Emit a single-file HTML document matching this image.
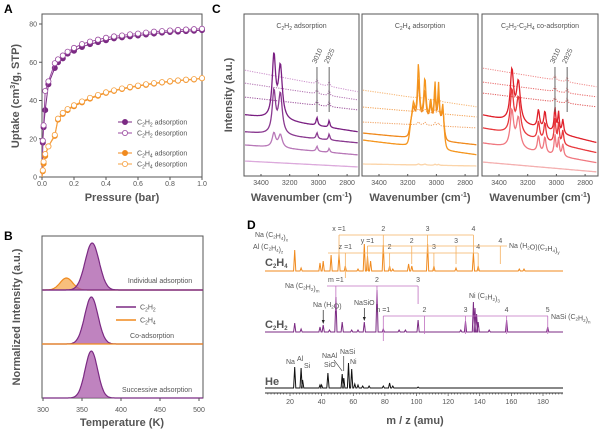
<!DOCTYPE html>
<html><head><meta charset="utf-8">
<style>
html,body{margin:0;padding:0;background:#fff;}
svg{display:block;font-family:"Liberation Sans",Arial,sans-serif;}
.t{fill:#555;font-size:7px;}
.ti{fill:#555;font-size:11px;font-weight:bold;}
.pl{fill:#000;font-size:12px;font-weight:bold;}
.lg{fill:#555;font-size:7px;}
</style></head>
<body>
<svg id="fig" width="600" height="430" viewBox="0 0 600 430">
<text class="pl" x="4" y="13">A</text>
<text class="pl" x="4" y="240">B</text>
<text class="pl" x="212" y="13">C</text>
<text class="pl" x="247" y="229">D</text>
<g id="gA"></g>
<g id="gB"></g>
<g id="gC"></g>
<g id="gD"></g>
</svg>
<script>
// ---------- Panel A data ----------
const pressA = [0.005,0.01,0.02,0.04,0.08,0.1,0.13,0.16,0.2,0.25,0.3,0.35,0.4,0.45,0.5,0.55,0.6,0.65,0.7,0.75,0.8,0.85,0.9,0.95,1.0];
const c2h2Ads = [18,26,35,48.5,57,60,62,64.5,66,68,69.5,70.5,71.5,72.5,73,73.5,74,74.5,75,75.5,75.8,76,76.3,76.5,76.8];
const c2h2Des = [19,27,45,50,59.5,61.5,63.5,65.5,67.5,69.5,70.8,71.8,72.8,73.5,74,74.6,75,75.5,76,76.3,76.6,76.9,77.1,77.3,77.5];
const c2h4Ads = [3,7,11,16,21.5,30,33,35,37,39,41,42.5,44,45,46,46.8,47.5,48.2,48.8,49.4,49.9,50.3,50.7,51,51.6];
const c2h4Des = [3.5,8,12,16,22,30.5,33.5,35.5,37.5,39.5,41.4,42.9,44.3,45.3,46.3,47.1,47.8,48.5,49.1,49.6,50.1,50.5,50.9,51.2,51.7];
const ticksAx = [0,0.2,0.4,0.6,0.8,1.0];
const ticksAy = [0,20,40,60,80];
// ---------- Panel B data ----------
const peakCenters = [363,330,362,362];
const peakHeights = [47,12,47,47];
const peakWidths = [9,8,8.5,8];
const ticksBx = [300,350,400,450,500];
// ---------- Panel C data ----------
const c1Peaks = [3310,3265,3010,2925];
const c1BaseL = [70,83,97,115,132,145,161];
const c1BaseR = [92,100,110,132,143,155,167];
const c1Amps = [[0,0,5,5],[0,0,5,5],[0,0,5,5],[62,52,8,7],[42,40,6,6],[14,13,5,4],[0,0,0,0]];
const c2Peaks = [3160,3125,3080,3040,3010,2985,2955];
const c2BaseL = [90,107,122,133,140,164];
const c2BaseR = [107,117,128,145,155,166];
const c2Amps = [[0,3,3,0,3,3,0],[0,3,3,0,3,3,0],[0,3,3,0,3,3,0],[12,40,30,15,28,28,16],[16,55,42,20,38,38,22],[0,1,1,0,1,1,0]];
const c2Plateau = [0,0,0,18,26,0];
const c3Peaks = [3310,3265,3125,3080,3010,2985,2955,2925];
const c3BaseL = [68,82,93,115,128,143,162];
const c3BaseR = [87,97,107,143,153,163,172];
const c3Amps = [[0,0,0,0,5,0,0,5],[0,0,0,0,5,0,0,5],[0,0,0,0,5,0,0,5],[50,40,18,18,24,20,14,0],[42,36,18,18,24,20,14,0],[36,30,16,16,20,17,12,0],[0,0,0,0,0,0,0,0]];
const ticksCx = [3400,3200,3000,2800];
// ---------- Panel D data ----------
const heMass = [23,27,28,39,40,44,53,54,57,59,61,63,66,70,79,83,85,101];
const heInt = [21,20,8,3,3,15,14,10,25,19,4,3,2,2,2,5,2,1];
const c2h2Mass = [23,27,39,41,45,49,53,59,63,67,75,79,89,93,101,128,131,136,137,138,139,146,157,183];
const c2h2Int = [9,3,5,7,2,35,10,2,2,10,42,3,2,2,12,2,11,30,24,18,10,2,12,5];
const c2h4Mass = [23,27,39,41,46,51,55,63,67,69,71,79,83,85,95,97,107,111,125,136,139,165,168];
const c2h4Int = [21,3,8,10,16,17,5,2,27,15,10,26,5,2,7,5,27,5,3,18,5,2,2];
const ticksDx = [20,40,60,80,100,120,140,160,180];

const NS='http://www.w3.org/2000/svg';
function mk(parent,tag,attrs,text){const e=document.createElementNS(NS,tag);for(const k in attrs)e.setAttribute(k,attrs[k]);if(text!==undefined)e.textContent=text;parent.appendChild(e);return e;}

// ================= Panel A =================
(function(){
 const g=document.getElementById('gA');
 const L=42,R=202,T=14,B=177;
 const xs=p=>L+p*(R-L);
 const ys=v=>B-v*(177-24)/80;
 const box=mk(g,'rect',{x:L,y:T,width:R-L,height:B-T,fill:'none',stroke:'#555','stroke-width':1});
 
 ticksAx.forEach(t=>{mk(g,'line',{x1:xs(t),x2:xs(t),y1:B,y2:B+3,stroke:'#555'});
  const tx=mk(g,'text',{x:xs(t),y:B+9,class:'t','text-anchor':'middle'},t.toFixed(1));
  });
 ticksAy.forEach(t=>{mk(g,'line',{x1:L-3,x2:L,y1:ys(t),y2:ys(t),stroke:'#555'});
  const tx=mk(g,'text',{x:L-5,y:ys(t)+2.5,class:'t','text-anchor':'end'},t);
  });
 const xt=mk(g,'text',{x:122,y:201,class:'ti','text-anchor':'middle'},'Pressure (bar)');
 
 const yt=mk(g,'text',{x:0,y:0,class:'ti','text-anchor':'middle',transform:'translate(19,96) rotate(-90)'});
 yt.innerHTML='Uptake (cm<tspan font-size="7" dy="-4">3</tspan><tspan dy="4">/g, STP)</tspan>';
 
 const series=[[c2h2Ads,'#7b2a83',true,'c2h2-adsorption'],[c2h2Des,'#9a4aa0',false,'c2h2-desorption'],[c2h4Ads,'#f08a1e',true,'c2h4-adsorption'],[c2h4Des,'#f5a040',false,'c2h4-desorption']];
 series.forEach(s=>{
  const pts=[[0,0]].concat(pressA.map((p,i)=>[p,s[0][i]]));
  const pl=mk(g,'polyline',{points:pts.map(q=>xs(q[0])+','+ys(q[1])).join(' '),fill:'none',stroke:s[1],'stroke-width':1});
  
  pressA.forEach((p,i)=>{const c=mk(g,'circle',{cx:xs(p),cy:ys(s[0][i]),r:2.6,fill:s[2]?s[1]:'#fff',stroke:s[1],'stroke-width':0.8});
   });
 });
 const leg=[[122,'#7b2a83',true,'C','2','H','2',' adsorption'],[133,'#9a4aa0',false,'C','2','H','2',' desorption'],[153,'#f08a1e',true,'C','2','H','4',' adsorption'],[164,'#f5a040',false,'C','2','H','4',' desorption']];
 leg.forEach(l=>{mk(g,'line',{x1:118,x2:132,y1:l[0],y2:l[0],stroke:l[1]});
  mk(g,'circle',{cx:125,cy:l[0],r:2.6,fill:l[2]?l[1]:'#fff',stroke:l[1],'stroke-width':0.8});
  const t=mk(g,'text',{x:137,y:l[0]+2.5,class:'lg'});
  t.innerHTML='C<tspan font-size="5" dy="2">2</tspan><tspan dy="-2">H</tspan><tspan font-size="5" dy="2">'+l[6]+'</tspan><tspan dy="-2">'+l[7]+'</tspan>';
  });
})();

// ================= Panel B =================
(function(){
 const g=document.getElementById('gB');
 const L=42,R=203,T=236,B=398;
 const xs=t=>43+(t-300)*(199-43)/200;
 const f=mk(g,'rect',{x:L,y:T,width:R-L,height:B-T,fill:'none',stroke:'#555'});
 
 const bases=[290,290,344,398];
 const cols=[['#7b2a83','rgba(170,90,170,0.75)'],['#f08a1e','rgba(245,170,80,0.75)'],['#7b2a83','rgba(170,90,170,0.75)'],['#7b2a83','rgba(170,90,170,0.75)']];
 const names=['peak-c2h2-individual','peak-c2h4-individual','peak-c2h2-co-adsorption','peak-c2h2-successive'];
 [1,0,2,3].forEach(i=>{
  let d='';
  for(let t=300;t<=505;t+=1){const y=bases[i]-peakHeights[i]*Math.exp(-Math.pow((t-peakCenters[i])/peakWidths[i],2)/2);d+=(t===300?'M':'L')+xs(t).toFixed(1)+','+y.toFixed(1);}
  const a=mk(g,'path',{d:d+'L'+xs(505)+','+bases[i]+'L'+xs(300)+','+bases[i]+'Z',fill:cols[i][1],stroke:'none'});
  
  const p=mk(g,'path',{d:d,fill:'none',stroke:cols[i][0],'stroke-width':1.2});
  
 });
 mk(g,'line',{x1:L,x2:R,y1:344,y2:344,stroke:'#f08a1e','stroke-width':1.2});
 mk(g,'line',{x1:L,x2:R,y1:290,y2:290,stroke:'#7b2a83','stroke-width':1.2});
 ticksBx.forEach(t=>{mk(g,'line',{x1:xs(t),x2:xs(t),y1:B,y2:B+3,stroke:'#555'});
  const tx=mk(g,'text',{x:xs(t),y:B+14,class:'t','text-anchor':'middle'},t);
  });
 const xt=mk(g,'text',{x:122,y:426,class:'ti','text-anchor':'middle'},'Temperature (K)');
 
 const yt=mk(g,'text',{x:0,y:0,class:'ti','text-anchor':'middle',transform:'translate(20,317) rotate(-90)'},'Normalized Intensity (a.u.)');
 
 [['Individual adsorption',160,283],['Co-adsorption',152,338],['Successive adsorption',157,392]].forEach(l=>{
  const t=mk(g,'text',{x:l[1],y:l[2],class:'lg','text-anchor':'middle'},l[0]);
  });
 [[307,'#7b2a83','2'],[320,'#f08a1e','4']].forEach(l=>{mk(g,'line',{x1:116,x2:136,y1:l[0],y2:l[0],stroke:l[1],'stroke-width':1.5});
  const t=mk(g,'text',{x:140,y:l[0]+2.5,class:'lg'});
  t.innerHTML='C<tspan font-size="5" dy="2">2</tspan><tspan dy="-2">H</tspan><tspan font-size="5" dy="2">'+l[2]+'</tspan>';
  });
})();

// ================= Panel C =================
(function(){
 const g=document.getElementById('gC');
 const boxes=[[244,359,c1Peaks,c1BaseL,c1BaseR,c1Amps],[362,478,c2Peaks,c2BaseL,c2BaseR,c2Amps],[482,598,c3Peaks,c3BaseL,c3BaseR,c3Amps]];
 const styles=[
  [['#cc90cc',1],['#b070b0',1],['#9a509a',1],['#7a1f82',0],['#8a3a90',0],['#b878b8',0],['#dcaadc',0]],
  [['#f6b470',1],['#f3a050',1],['#f0a060',1],['#f08a1e',0],['#f5961f',0],['#fbd4a8',0]],
  [['#ef8a8a',1],['#e86868',1],['#e05858',1],['#e0202a',0],['#e8383c',0],['#f07880',0],['#f4b0b0',0]]];
 const titles=[['C','2','H','2',' adsorption'],['C','2','H','4',' adsorption'],null];
 const T=14,B=176;
 boxes.forEach((bx,bi)=>{
  const L=bx[0],R=bx[1];
  const xs=w=>L+17+(3400-w)*28.7/200;
  const f=mk(g,'rect',{x:L,y:T,width:R-L,height:B-T,fill:'none',stroke:'#555'});
  
  const wL=3400+17*200/28.7;
  const gam=bi===0?[14,16,7,6]:(bi===1?[10,8,9,8,6,6,7]:[14,16,9,9,7,6,7,6]);
  bx[3].forEach((bl,si)=>{
   let d='';
   for(let x=L+1;x<=R-1;x+=0.7){const w=wL-(x-L)*200/28.7;let y=bl+(bx[4][si]-bl)*(x-L)/(R-L);
    bx[2].forEach((c,pi)=>{const gm=gam[pi];y-=bx[5][si][pi]*gm*gm/((w-c)*(w-c)+gm*gm);});
    if(bi===1){ const e=1/(1+Math.exp((w-3185)/6))/(1+Math.exp((2945-w)/6)); y-=c2Plateau[si]*e; }
    d+=(d?'L':'M')+x.toFixed(1)+','+y.toFixed(1);}
   const st=styles[bi][si];
   const p=mk(g,'path',{d:d,fill:'none',stroke:st[0],'stroke-width':st[1]?1:1.3,'stroke-dasharray':st[1]?'1.2,1.2':'none'});
   
  });
  ticksCx.forEach(t=>{mk(g,'line',{x1:xs(t),x2:xs(t),y1:B,y2:B-2,stroke:'#555'});
   const tx=mk(g,'text',{x:xs(t),y:B+9,class:'t','text-anchor':'middle'},t);
   });
  const xt=mk(g,'text',{x:(L+R)/2,y:201,class:'ti','text-anchor':'middle'});
  xt.innerHTML='Wavenumber (cm<tspan font-size="7" dy="-4">-1</tspan><tspan dy="4">)</tspan>';
  
  const tt=mk(g,'text',{x:(L+R)/2,y:28,class:'lg','text-anchor':'middle'});
  if(bi<2) tt.innerHTML='C<tspan font-size="5" dy="2">2</tspan><tspan dy="-2">H</tspan><tspan font-size="5" dy="2">'+titles[bi][3]+'</tspan><tspan dy="-2">'+titles[bi][4]+'</tspan>';
  else tt.innerHTML='C<tspan font-size="5" dy="2">2</tspan><tspan dy="-2">H</tspan><tspan font-size="5" dy="2">2</tspan><tspan dy="-2">-C</tspan><tspan font-size="5" dy="2">2</tspan><tspan dy="-2">H</tspan><tspan font-size="5" dy="2">4</tspan><tspan dy="-2"> co-adsorption</tspan>';
  
  if(bi!==1){[3010,2925].forEach(w=>{mk(g,'line',{x1:xs(w),x2:xs(w),y1:67,y2:112,stroke:'#666','stroke-width':1});
   const t=mk(g,'text',{x:0,y:0,class:'t','font-size':'6',transform:'translate('+(xs(w)-1)+',64) rotate(-65)'},w);
   });}
 });
 const yt=mk(g,'text',{x:0,y:0,class:'ti','text-anchor':'middle',transform:'translate(232,95) rotate(-90)'},'Intensity (a.u.)');
 
})();

// ================= Panel D =================
(function(){
 const g=document.getElementById('gD');
 const L=265,R=563,AX=393;
 const xs=m=>290+(m-20)*(543-290)/160;
 mk(g,'line',{x1:L,x2:R,y1:AX,y2:AX,stroke:'#333','stroke-width':1});
 for(let m=6;m<=192;m+=2){mk(g,'line',{x1:xs(m),x2:xs(m),y1:AX,y2:AX+(m%20===0?3:1.5),stroke:'#333','stroke-width':0.6});}
 ticksDx.forEach(t=>{const tx=mk(g,'text',{x:xs(t),y:AX+11,class:'t','text-anchor':'middle'},t);
  });
 const xt=mk(g,'text',{x:415,y:424,class:'ti','text-anchor':'middle'},'m / z (amu)');
 
 const tr=[[heMass,heInt,388,'#111','he-trace'],[c2h2Mass,c2h2Int,332,'#7b2a83','c2h2-trace'],[c2h4Mass,c2h4Int,271,'#f08a1e','c2h4-trace']];
 tr.forEach(t=>{
  let d='M'+L+','+t[2];
  const idx=t[0].map((m,i)=>i).sort((a,b)=>t[0][a]-t[0][b]);
  idx.forEach(i=>{const x=xs(t[0][i]);d+='L'+(x-1.1).toFixed(1)+','+t[2]+'L'+x.toFixed(1)+','+(t[2]-t[1][i]).toFixed(1)+'L'+(x+1.1).toFixed(1)+','+t[2];});
  d+='L'+R+','+t[2];
  const p=mk(g,'path',{d:d,fill:'none',stroke:t[3],'stroke-width':1});
  
 });
 const sub=(x,y,html,name,cls,anchor)=>{const t=mk(g,'text',{x:x,y:y,class:cls||'lg','text-anchor':anchor||'start'});t.innerHTML=html;return t;};
 const s=n=>'<tspan font-size="4.5" dy="1.5">'+n+'</tspan><tspan dy="-1.5"></tspan>';
 sub(265,266,'C<tspan font-size="6" dy="2">2</tspan><tspan dy="-2">H</tspan><tspan font-size="6" dy="2">4</tspan>','trace-label-c2h4','ti');
 sub(265,328,'C<tspan font-size="6" dy="2">2</tspan><tspan dy="-2">H</tspan><tspan font-size="6" dy="2">2</tspan>','trace-label-c2h2','ti');
 sub(265,385,'He','trace-label-he','ti');
 const lO='#f5b060', lP='#c070c0';
 const ann=[[[51,79,107,136],235,lO,['x =1','2','3','4'],231,'Na (C'+s(2)+'H'+s(4)+')'+s('x'),255,237,xs(51)],
  [[55,83,111,139],253,lO,['z =1','2','3','4'],249,'Al (C'+s(2)+'H'+s(4)+')'+s('z'),253,249,328],
  [[69,97,125,153],246,lO,['y =1','2','3','4'],243,'',0,0,xs(69)],
  [[49,75,101],286,lP,['m =1','2','3'],282,'Na (C'+s(2)+'H'+s(2)+')'+s('m'),285,288,327],
  [[79,105,131,157,183],316,lP,['n =1','2','3','4','5'],312,'',0,0,xs(79)]];
 ann.forEach(a=>{
  const xe=a===ann[2]?507:(a===ann[4]?548:xs(a[0][a[0].length-1]));
  mk(g,'line',{x1:a[8],x2:xe,y1:a[1],y2:a[1],stroke:a[2],'stroke-width':0.8});
  a[0].forEach((m,i)=>{mk(g,'line',{x1:xs(m),x2:xs(m),y1:a[1],y2:a[1]+(i===0?25:18),stroke:a[2],'stroke-width':0.8});
   const t=mk(g,'text',{x:xs(m),y:a[4],class:'t','font-size':'6','text-anchor':'middle'},a[3][i]);
   });
  if(a[5]) sub(a[6],a[7],a[5],'series-label','lg','start');
 });
 sub(509,248,'Na (H'+s(2)+'O)(C'+s(2)+'H'+s(4)+')'+s('y'),'series-label');
 sub(551,319,'NaSi (C'+s(2)+'H'+s(2)+')'+s('n'),'series-label');
 sub(313,307,'Na (H'+s(2)+'O)','label-na-h2o');
 mk(g,'line',{x1:xs(41),x2:xs(41),y1:310,y2:322,stroke:'#222','stroke-width':0.7});
 mk(g,'path',{d:'M'+(xs(41)-1.5)+',320L'+xs(41)+',324L'+(xs(41)+1.5)+',320Z',fill:'#222'});
 sub(xs(67),305,'NaSiO','label-nasio','lg','middle');
 mk(g,'line',{x1:xs(67),x2:xs(67),y1:308,y2:319,stroke:'#222','stroke-width':0.7});
 mk(g,'path',{d:'M'+(xs(67)-1.5)+',317L'+xs(67)+',321L'+(xs(67)+1.5)+',317Z',fill:'#222'});
 sub(469,298,'Ni (C'+s(2)+'H'+s(2)+')'+s(3),'label-ni-c2h2-3');
 [['Na',286,364],['Al',297,361],['Si',304,368],['NaAl',322,358],['SiO',324,367],['NaSi',340,354],['Ni',350,364]].forEach(l=>sub(l[1],l[2],l[0],'he-peak-label'));
 mk(g,'line',{x1:334,x2:xs(53),y1:360,y2:371,stroke:'#222','stroke-width':0.6});
 mk(g,'line',{x1:xs(54),x2:xs(54),y1:356,y2:371,stroke:'#222','stroke-width':0.6});
})();
</script>
</body></html>
